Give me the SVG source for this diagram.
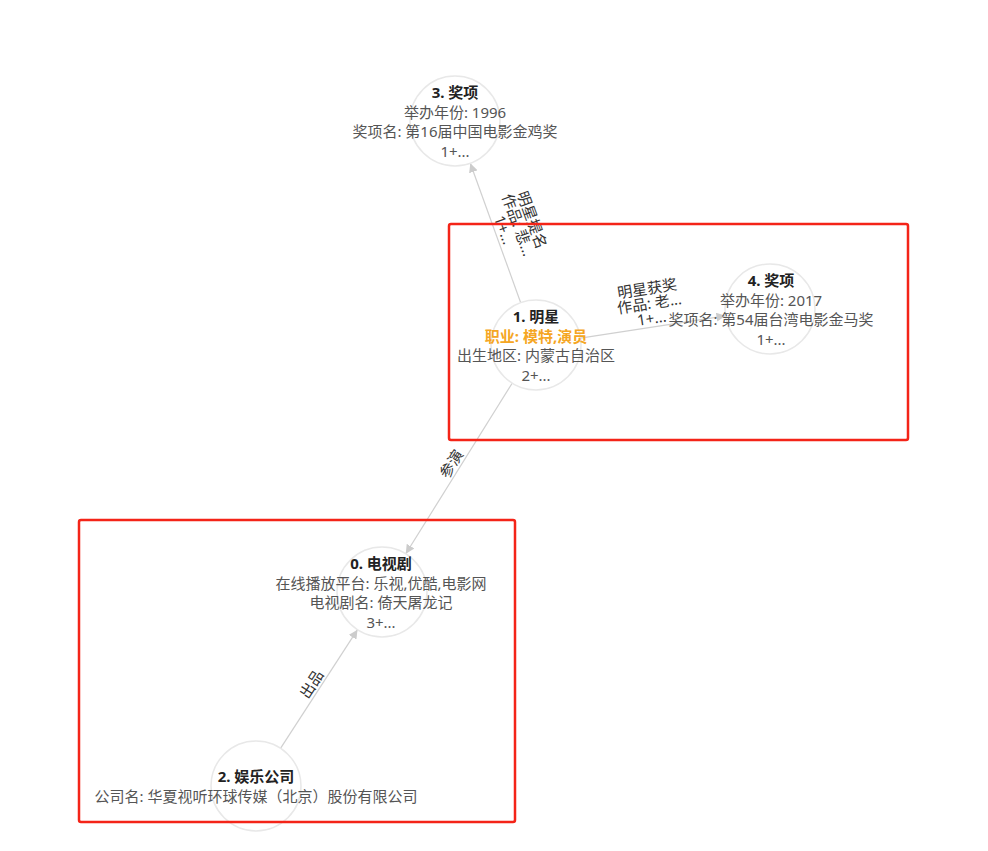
<svg xmlns="http://www.w3.org/2000/svg" width="988" height="851" viewBox="0 0 988 851">
<style>
.bg{fill:#ffffff}
.node circle{fill:#ffffff;stroke:#e8e8e8;stroke-width:1.5}
text{font-family:"Noto Sans","Noto Sans CJK SC",sans-serif;font-size:15px;text-anchor:middle;dominant-baseline:central}
.t{font-weight:bold;fill:#222222}
.p{fill:#555555}
.hl{font-weight:bold;fill:#f5a623}
.edge line{stroke:#d0d0d0;stroke-width:1.2}
.el{fill:#333333}
.box{fill:none;stroke:#f42418;stroke-width:2.5}
</style>
<defs>
<marker id="arr" viewBox="0 0 10 10" refX="10" refY="5" markerWidth="9" markerHeight="9" markerUnits="userSpaceOnUse" orient="auto">
<path d="M0,0 L10,5 L0,10 z" fill="#cccccc"/>
</marker>
</defs>
<rect class="bg" x="0" y="0" width="988" height="851"/>
<g id="edges" class="edge">
<line x1="520.7" y1="302.7" x2="470.3" y2="163.3" marker-end="url(#arr)"/>
<line x1="580.5" y1="338.2" x2="725.5" y2="315.8" marker-end="url(#arr)"/>
<line x1="512.2" y1="383.2" x2="405.8" y2="553.8" marker-end="url(#arr)"/>
<line x1="280.5" y1="748.3" x2="357.5" y2="629.7" marker-end="url(#arr)"/>
<g transform="translate(495.5,233) rotate(70.1)">
<text class="el" x="0" y="-39.5">明星提名</text>
<text class="el" x="0" y="-24.5">作品: 悲...</text>
<text class="el" x="0" y="-9.5">1+...</text>
</g>
<g transform="translate(653,327) rotate(-8.75)">
<text class="el" x="0" y="-39.5">明星获奖</text>
<text class="el" x="0" y="-24.5">作品: 老...</text>
<text class="el" x="0" y="-9.5">1+...</text>
</g>
<g transform="translate(459,468.5) rotate(-58.06)">
<text class="el" x="0" y="-9.5">参演</text>
</g>
<g transform="translate(319,689) rotate(-57)">
<text class="el" x="0" y="-9.5">出品</text>
</g>
</g>
<g id="node3" class="node">
<circle cx="455" cy="121" r="45"/>
<text class="t" x="455" y="92">3. 奖项</text>
<text class="p" x="455" y="111.5">举办年份: 1996</text>
<text class="p" x="455" y="131">奖项名: 第16届中国电影金鸡奖</text>
<text class="p" x="455" y="151">1+...</text>
</g>
<g id="node1" class="node">
<circle cx="536" cy="345" r="45"/>
<text class="t" x="536" y="316">1. 明星</text>
<text class="hl" x="536" y="335.5">职业: 模特,演员</text>
<text class="p" x="536" y="355">出生地区: 内蒙古自治区</text>
<text class="p" x="536" y="375">2+...</text>
</g>
<g id="node4" class="node">
<circle cx="770" cy="309" r="45"/>
<text class="t" x="771" y="280">4. 奖项</text>
<text class="p" x="771" y="299.5">举办年份: 2017</text>
<text class="p" x="771" y="319">奖项名: 第54届台湾电影金马奖</text>
<text class="p" x="771" y="339">1+...</text>
</g>
<g id="node0" class="node">
<circle cx="382" cy="592" r="45"/>
<text class="t" x="381" y="563">0. 电视剧</text>
<text class="p" x="381" y="582.5">在线播放平台: 乐视,优酷,电影网</text>
<text class="p" x="381" y="602">电视剧名: 倚天屠龙记</text>
<text class="p" x="381" y="622">3+...</text>
</g>
<g id="node2" class="node">
<circle cx="256" cy="786" r="45"/>
<text class="t" x="256" y="776">2. 娱乐公司</text>
<text class="p" x="256" y="796">公司名: 华夏视听环球传媒（北京）股份有限公司</text>
</g>
<g id="highlights">
<rect class="box" x="449" y="224" width="459" height="216" rx="2"/>
<rect class="box" x="79" y="520" width="436" height="302" rx="2"/>
</g>
</svg>
